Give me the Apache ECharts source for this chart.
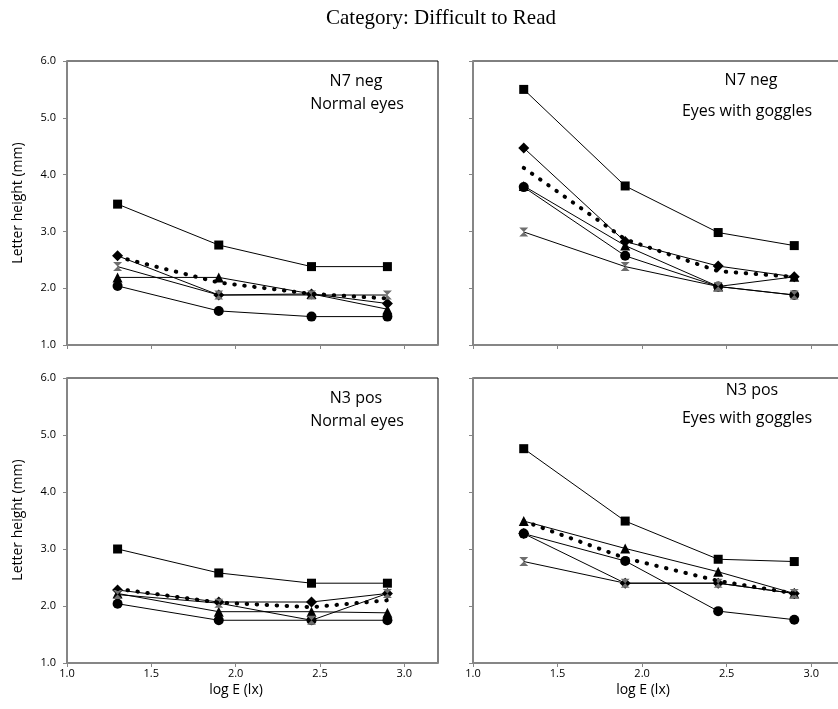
<!DOCTYPE html>
<html>
<head>
<meta charset="utf-8">
<script src="https://cdn.jsdelivr.net/npm/echarts@6/dist/echarts.min.js"></script>
<style>html,body{margin:0;padding:0;background:#fff;}#c{width:838px;height:709px;}</style>
</head>
<body>
<div id="c"></div>
<script>
// x positions (log E, lx)
const xValues = [1.3, 1.9, 2.45, 2.9];
const xTickValues = [1.0, 1.5, 2.0, 2.5, 3.0];
const yTickValues = [1, 2, 3, 4, 5, 6];

// Panel 1: N7 neg, Normal eyes
const p1Square   = [3.48, 2.76, 2.38, 2.38];
const p1Diamond  = [2.57, 1.88, 1.90, 1.73];
const p1Triangle = [2.19, 2.19, 1.90, 1.63];
const p1Cross    = [2.38, 1.88, 1.88, 1.88];
const p1Circle   = [2.04, 1.60, 1.50, 1.50];
const p1Mean     = [2.55, 2.10, 1.90, 1.82];

// Panel 2: N7 neg, Eyes with goggles
const p2Square   = [5.50, 3.80, 2.98, 2.75];
const p2Diamond  = [4.47, 2.82, 2.39, 2.20];
const p2Triangle = [3.80, 2.75, 2.03, 2.20];
const p2Cross    = [2.99, 2.38, 2.03, 1.88];
const p2Circle   = [3.78, 2.57, 2.03, 1.88];
const p2Mean     = [4.12, 2.86, 2.30, 2.20];

// Panel 3: N3 pos, Normal eyes
const p3Square   = [3.00, 2.58, 2.40, 2.40];
const p3Diamond  = [2.28, 2.07, 2.07, 2.22];
const p3Triangle = [2.22, 1.90, 1.90, 1.88];
const p3Cross    = [2.20, 2.05, 1.75, 2.22];
const p3Circle   = [2.04, 1.75, 1.75, 1.75];
const p3Mean     = [2.30, 2.06, 1.98, 2.10];

// Panel 4: N3 pos, Eyes with goggles
const p4Square   = [4.76, 3.49, 2.82, 2.78];
const p4Diamond  = [3.27, 2.40, 2.40, 2.22];
const p4Triangle = [3.49, 3.01, 2.60, 2.22];
const p4Cross    = [2.78, 2.40, 2.40, 2.22];
const p4Circle   = [3.27, 2.79, 1.91, 1.76];
const p4Mean     = [3.49, 2.84, 2.44, 2.22];

const panels = [
  {sq:p1Square, di:p1Diamond, tr:p1Triangle, cr:p1Cross, ci:p1Circle, mean:p1Mean},
  {sq:p2Square, di:p2Diamond, tr:p2Triangle, cr:p2Cross, ci:p2Circle, mean:p2Mean},
  {sq:p3Square, di:p3Diamond, tr:p3Triangle, cr:p3Cross, ci:p3Circle, mean:p3Mean},
  {sq:p4Square, di:p4Diamond, tr:p4Triangle, cr:p4Cross, ci:p4Circle, mean:p4Mean}
];

const grids = [
  {left: 67,  top: 61,  width: 371, height: 284},
  {left: 473, top: 61,  width: 372, height: 284},
  {left: 67,  top: 378, width: 371, height: 285},
  {left: 473, top: 378, width: 372, height: 285}
];

const FONT = '"Open Sans", "Noto Sans", sans-serif';
const AXIS_GRAY = '#868686';

const toPts = arr => xValues.map((x, i) => [x, arr[i]]);

const option = {
  animation: false,
  backgroundColor: '#fff',
  grid: grids.map(g => Object.assign({show: true, borderColor: '#000', borderWidth: 1,
                                      backgroundColor: 'transparent', outerBoundsMode: 'none',
                                      containLabel: false}, g)),
  xAxis: grids.map((g, i) => ({
    type: 'value', gridIndex: i, min: 1, max: 3.2, interval: 0.5,
    axisLine: {show: true, onZero: false, lineStyle: {color: AXIS_GRAY, width: 2}},
    axisTick: {show: true, length: 4, customValues: xTickValues, lineStyle: {color: AXIS_GRAY, width: 1}},
    axisLabel: {show: i >= 2, customValues: xTickValues, formatter: v => v.toFixed(1), margin: 5,
                color: '#000', fontFamily: FONT, fontSize: 11},
    splitLine: {show: false}
  })),
  yAxis: grids.map((g, i) => ({
    type: 'value', gridIndex: i, min: 1, max: 6, interval: 1,
    axisLine: {show: true, onZero: false, lineStyle: {color: AXIS_GRAY, width: 2}},
    axisTick: {show: true, length: 4, lineStyle: {color: AXIS_GRAY, width: 1}},
    axisLabel: {show: i % 2 === 0, formatter: v => v.toFixed(1), margin: 11,
                color: '#000', fontFamily: FONT, fontSize: 11},
    splitLine: {show: false}
  })),
  series: [],
  graphic: []
};

const hourglass = 'path://M0,0L10,0L5,5L10,10L0,10L5,5Z';
panels.forEach((p, i) => {
  const base = {type: 'line', xAxisIndex: i, yAxisIndex: i, lineStyle: {color: '#000', width: 1},
                itemStyle: {color: '#000'}, z: 3};
  option.series.push(Object.assign({}, base, {name: 'square', data: toPts(p.sq), symbol: 'rect', symbolSize: 9}));
  option.series.push(Object.assign({}, base, {name: 'triangle', data: toPts(p.tr), symbol: 'triangle', symbolSize: 10}));
  option.series.push(Object.assign({}, base, {name: 'circle', data: toPts(p.ci), symbol: 'circle', symbolSize: 10}));
  option.series.push(Object.assign({}, base, {name: 'diamond', data: toPts(p.di), symbol: 'diamond', symbolSize: 11}));
  option.series.push(Object.assign({}, base, {name: 'cross', data: toPts(p.cr), symbol: hourglass, symbolSize: 9,
                     itemStyle: {color: '#6e6e6e'}}));
  option.series.push({type: 'line', name: 'mean', xAxisIndex: i, yAxisIndex: i, data: toPts(p.mean),
                      symbol: 'none', z: 4,
                      lineStyle: {color: '#000', width: 4, type: [0.5, 9.5], cap: 'round'}});
});

const txt = (text, x, y, font, extra) => Object.assign({
  type: 'text', x: x, y: y, z: 10,
  style: {text: text, font: font, fill: '#000', align: 'center', verticalAlign: 'middle'}
}, extra || {});

const annFont = '16px ' + FONT;
option.graphic = [
  txt('Category: Difficult to Read', 441, 18, '21px "Liberation Serif", "Times New Roman", serif'),
  txt('N7 neg', 356, 81, annFont),
  txt('Normal eyes', 357, 104, annFont),
  txt('N7 neg', 751, 80, annFont),
  txt('Eyes with goggles', 747, 111, annFont),
  txt('N3 pos', 356, 398, annFont),
  txt('Normal eyes', 357, 421, annFont),
  txt('N3 pos', 752, 390, annFont),
  txt('Eyes with goggles', 747, 418, annFont),
  txt('Letter height (mm)', 18, 203, '14px ' + FONT, {rotation: Math.PI / 2}),
  txt('Letter height (mm)', 18, 520, '14px ' + FONT, {rotation: Math.PI / 2}),
  txt('log E (lx)', 236, 690, '14px ' + FONT),
  txt('log E (lx)', 643, 690, '14px ' + FONT)
];

const chart = echarts.init(document.getElementById('c'), null, {renderer: 'canvas'});
chart.setOption(option);
</script>
</body>
</html>
